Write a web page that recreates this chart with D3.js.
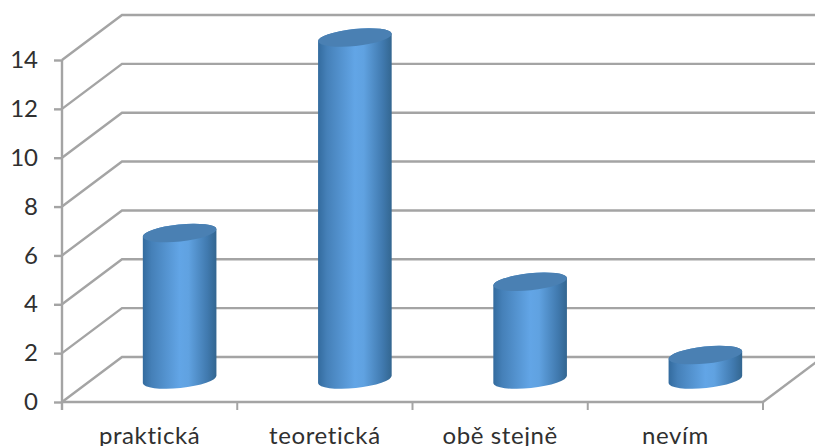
<!DOCTYPE html>
<html>
<head>
<meta charset="utf-8">
<script src="https://cdn.jsdelivr.net/npm/d3@7"></script>
<style>
html,body{margin:0;padding:0;background:#fff;overflow:hidden}
svg{display:block}
</style>
</head>
<body>
<svg id="chart" width="815" height="446"></svg>
<script>
const categories = ["praktická", "teoretická", "obě stejně", "nevím"];
const values = [6, 14, 4, 1];
const tickValues = [0, 2, 4, 6, 8, 10, 12, 14];

const svg = d3.select("#chart");
const W = 815;
const fontFamily = 'Lato, "Open Sans", sans-serif';
const textColor = "#303030";

// Front plane of the pseudo-3D box, and the depth offset to its back wall
const x = d3.scaleBand().domain(categories).range([62, 763]);
const y = d3.scaleLinear().domain([0, 14]).range([402, 60]);
const depth = { dx: 60, dy: -45 };
const gridColor = "#a4a4a4";

const defs = svg.append("defs");
const grad = defs.append("linearGradient").attr("id", "cyl")
  .attr("x1", "0%").attr("x2", "100%").attr("y1", "0%").attr("y2", "0%");
[[0, "#336b9e"], [0.12, "#4580b8"], [0.5, "#62a5e6"], [0.62, "#60a2e1"], [0.88, "#4079ae"], [1, "#336690"]]
  .forEach(([o, c]) => grad.append("stop").attr("offset", o).attr("stop-color", c));

// Floor and walls
const grid = svg.append("g").attr("fill", "none").attr("stroke", gridColor);
tickValues.forEach(v => {
  grid.append("path").attr("stroke-width", 2.4)
    .attr("d", d3.line()([
      [x.range()[0], y(v)],
      [x.range()[0] + depth.dx, y(v) + depth.dy],
      [W, y(v) + depth.dy]
    ]));
});
// Right edge of the floor rises towards the back wall
grid.append("path").attr("stroke-width", 2.4)
  .attr("d", d3.line()([[x.range()[1], y(0)], [x.range()[1] + depth.dx, y(0) + depth.dy]]));

// Value axis
const axisY = d3.axisLeft(y).tickValues(tickValues).tickSize(8).tickPadding(16);
const gy = svg.append("g").attr("transform", `translate(${x.range()[0]},0)`).call(axisY);
gy.selectAll("path,line").attr("stroke", gridColor).attr("stroke-width", 2.4);
gy.select(".domain").attr("d", `M0,${y(14)}V${y(0) + 8}`);
gy.selectAll("text").attr("font-size", 24).attr("font-family", fontFamily).attr("fill", textColor);

// Category axis
const axisX = d3.axisBottom(x).tickSize(0).tickPadding(25);
const gx = svg.append("g").attr("transform", `translate(0,${y(0)})`).call(axisX);
gx.select(".domain").attr("stroke", gridColor).attr("stroke-width", 2.4).attr("d", `M${x.range()[0]},0H${x.range()[1]}`);
gx.selectAll("text").attr("font-size", 24).attr("letter-spacing", 0.6)
  .attr("font-family", fontFamily).attr("fill", textColor);
gx.selectAll(".edge").data(d3.range(categories.length + 1)).enter().append("line")
  .attr("class", "edge")
  .attr("x1", i => x.range()[0] + i * x.step()).attr("x2", i => x.range()[0] + i * x.step())
  .attr("y1", 0).attr("y2", 8)
  .attr("stroke", gridColor).attr("stroke-width", 2);

// Cylinders stand in the middle of the box depth
const rx = 37, ry = 8.5, tilt = -6;
const baseY = y(0) + depth.dy / 2;
const barHeight = v => y(0) - y(v);
const rad = tilt * Math.PI / 180;
const ex = rx * Math.cos(rad), ey = rx * Math.sin(rad);

const bars = svg.append("g").selectAll("g").data(categories).enter().append("g")
  .attr("transform", d => `translate(${x(d) + x.bandwidth() / 2 + depth.dx / 2},0)`);

bars.append("path")
  .attr("fill", "url(#cyl)")
  .attr("d", (d, i) => {
    const top = baseY - barHeight(values[i]);
    return `M${-ex},${top - ey}L${-ex},${baseY - ey}` +
      `A${rx},${ry} ${tilt} 0 0 ${ex},${baseY + ey}` +
      `L${ex},${top + ey}A${rx},${ry} ${tilt} 0 0 ${-ex},${top - ey}Z`;
  });
bars.append("ellipse")
  .attr("rx", rx).attr("ry", ry)
  .attr("fill", "#4a80b3")
  .attr("transform", (d, i) => `translate(0,${baseY - barHeight(values[i])}) rotate(${tilt})`);
</script>
</body>
</html>
